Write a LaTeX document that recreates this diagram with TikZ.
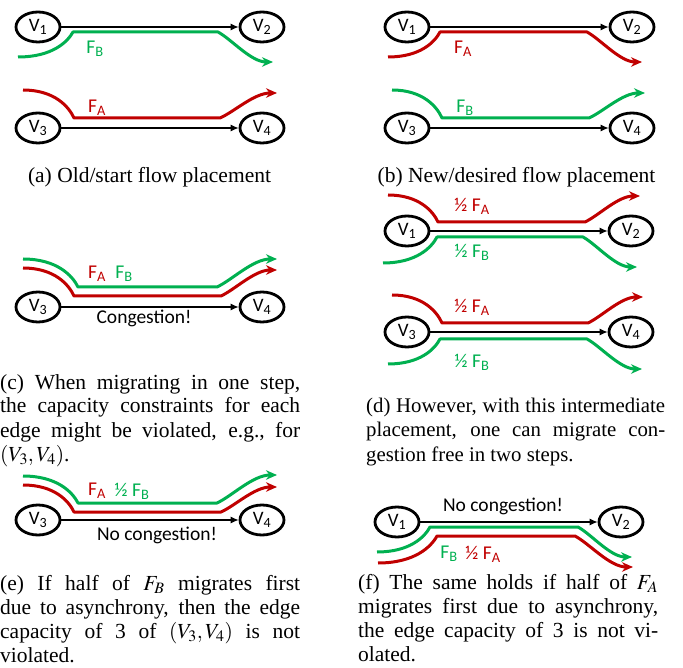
\documentclass[tikz,border=0pt]{standalone}
\usepackage{mathptmx}
\usepackage{fontspec}
\setmainfont{Liberation Serif}
\newfontfamily\calfont{Carlito}
\usetikzlibrary{shapes.geometric,arrows.meta}
\definecolor{flowred}{HTML}{C00000}
\definecolor{flowgreen}{HTML}{00B050}
\hyphenpenalty=10000

% A flow: start (#2,#3) bends into the straight run at (#4,#5),
% runs to x=#6 and bends out to its tip at (#7,#8).
\newcommand\flowpath[8]{%
  \pgfmathsetmacro\fpca{#2+0.62*(#4-#2)}%
  \pgfmathsetmacro\fpcb{#4-0.1*(#4-#2)}%
  \pgfmathsetmacro\fpcc{#5-0.4*(#5-#3)}%
  \pgfmathsetmacro\fpcd{#6+0.25*(#7-#6)}%
  \pgfmathsetmacro\fpce{#5+0.25*(#8-#5)}%
  \pgfmathsetmacro\fpcf{#7-0.4*(#7-#6)}%
  \draw[flow,#1] (#2,#3) .. controls (\fpca,#3) and (\fpcb,\fpcc) .. (#4,#5)
    -- (#6,#5) .. controls (\fpcd,\fpce) and (\fpcf,#8) .. (#7,#8);}

\begin{document}
\begin{tikzpicture}[x=1pt,y=-1pt,
  vertex/.style={ellipse, draw, line width=2.8, minimum width=44, minimum height=30,
    inner sep=0, font=\calfont\fontsize{19}{21}\selectfont},
  link/.style={line width=1.1, -{Latex[length=8,width=7]}},
  flow/.style={line width=3, line join=round, -{Stealth[length=11,width=9.5]}},
  lab/.style={font=\calfont\fontsize{19.5}{21}\selectfont, inner sep=0},
  capline/.style={font=\fontsize{21.5}{24}\selectfont, inner sep=0, anchor=base},
  cappar/.style={font=\fontsize{21.5}{24}\selectfont,
    inner sep=0, align=justify, anchor=base west}]
\useasboundingbox (0,0) rectangle (683,668);

% ---------- (a) old placement ----------
\node[vertex] (v1a) at (38,27) {V\textsubscript{1}};
\node[vertex] (v2a) at (262,27) {V\textsubscript{2}};
\node[vertex] (v3a) at (38,128) {V\textsubscript{3}};
\node[vertex] (v4a) at (262,128) {V\textsubscript{4}};
\draw[link] (v1a) -- (v2a);
\draw[link] (v3a) -- (v4a);
\flowpath{flowgreen}{18}{57}{73}{32}{218}{273}{62}
\flowpath{flowred}{23}{90}{74}{118}{220}{277}{93}
\node[lab, text=flowgreen] (la1) at (95,49) {F\textsubscript{B}};
\node[lab, text=flowred] (la2) at (97,108) {F\textsubscript{A}};
\node[capline] (capa) at (149.5,183) {(a) Old/start flow placement};

% ---------- (b) new placement ----------
\node[vertex] (v1b) at (407,27) {V\textsubscript{1}};
\node[vertex] (v2b) at (632,27) {V\textsubscript{2}};
\node[vertex] (v3b) at (407,128) {V\textsubscript{3}};
\node[vertex] (v4b) at (632,128) {V\textsubscript{4}};
\draw[link] (v1b) -- (v2b);
\draw[link] (v3b) -- (v4b);
\flowpath{flowred}{388}{57}{440}{32}{587}{642}{62}
\flowpath{flowgreen}{392}{90}{442}{118}{589}{645}{93}
\node[lab, text=flowred] (lb1) at (463,49) {F\textsubscript{A}};
\node[lab, text=flowgreen] (lb2) at (465,108) {F\textsubscript{B}};
\node[capline] (capb) at (516.5,183) {(b) New/desired flow placement};

% ---------- (c) one-step migration ----------
\node[vertex] (v3c) at (38,307) {V\textsubscript{3}};
\node[vertex] (v4c) at (262,307) {V\textsubscript{4}};
\draw[link] (v3c) -- (v4c);
\flowpath{flowred}{23}{268}{74}{296}{221}{277}{270}
\flowpath{flowgreen}{23}{259}{78}{287}{217}{277}{259}
\node[lab, text=flowred] (lc1) at (97,274) {F\textsubscript{A}};
\node[lab, text=flowgreen] (lc2) at (124,274) {F\textsubscript{B}};
\node[lab] (lc3) at (144,318) {Congestion!};
\node[cappar, text width=300] (capc) at (0,389)
  {(c) When migrating in one step,\linebreak
   the capacity constraints for each\linebreak
   edge might be violated, e.g.,\ for\linebreak
   $(V_3,V_4)$.};

% ---------- (d) intermediate placement ----------
\node[vertex] (v1d) at (407,231) {V\textsubscript{1}};
\node[vertex] (v2d) at (631,231) {V\textsubscript{2}};
\node[vertex] (v3d) at (407,332) {V\textsubscript{3}};
\node[vertex] (v4d) at (631,332) {V\textsubscript{4}};
\draw[link] (v1d) -- (v2d);
\draw[link] (v3d) -- (v4d);
\flowpath{flowred}{388}{195}{438}{222}{585}{640}{196}
\flowpath{flowgreen}{383}{263}{437}{237}{583}{637}{267}
\flowpath{flowred}{392}{295}{442}{323}{588}{643}{297}
\flowpath{flowgreen}{388}{364}{440}{339}{587}{642}{369}
\node[lab, text=flowred] (ld1) at (472,206) {½ F\textsubscript{A}};
\node[lab, text=flowgreen] (ld2) at (472,252) {½ F\textsubscript{B}};
\node[lab, text=flowred] (ld3) at (472,307) {½ F\textsubscript{A}};
\node[lab, text=flowgreen] (ld4) at (472,362) {½ F\textsubscript{B}};
\node[cappar, text width=299, font=\fontsize{20.8}{24}\selectfont] (capd) at (366,413)
  {(d) However, with this intermediate\linebreak
   placement, one can migrate con-\linebreak
   gestion free in two steps.};

% ---------- (e) half of F_B first ----------
\node[vertex] (v3e) at (38,520) {V\textsubscript{3}};
\node[vertex] (v4e) at (262,520) {V\textsubscript{4}};
\draw[link] (v3e) -- (v4e);
\flowpath{flowred}{23}{485}{74}{512}{221}{277}{487}
\flowpath{flowgreen}{23}{476}{78}{503}{217}{277}{475}
\node[lab, text=flowred] (le1) at (97,491) {F\textsubscript{A}};
\node[lab, text=flowgreen] (le2) at (132,491) {½ F\textsubscript{B}};
\node[lab] (le3) at (157,535) {No congestion!};
\node[cappar, text width=300] (cape) at (0,590)
  {(e) If half of $F_B$ migrates first\linebreak
   due to asynchrony, then the edge\linebreak
   capacity of 3 of $(V_3,V_4)$ is not\linebreak
   violated.};

% ---------- (f) half of F_A first ----------
\node[vertex] (v1f) at (397,522) {V\textsubscript{1}};
\node[vertex] (v2f) at (621,522) {V\textsubscript{2}};
\draw[link] (v1f) -- (v2f);
\flowpath{flowgreen}{377}{552}{430}{527}{578}{632}{557}
\flowpath{flowred}{378}{563}{437}{536}{575}{633}{567}
\node[lab] (lf0) at (503,506) {No congestion!};
\node[lab, text=flowgreen] (lf1) at (449,554) {F\textsubscript{B}};
\node[lab, text=flowred] (lf2) at (483,554) {½ F\textsubscript{A}};
\node[cappar, text width=300] (capf) at (358,589)
  {(f) The same holds if half of $F_A$\linebreak
   migrates first due to asynchrony,\linebreak
   the edge capacity of 3 is not vi-\linebreak
   olated.};
\end{tikzpicture}
\end{document}
